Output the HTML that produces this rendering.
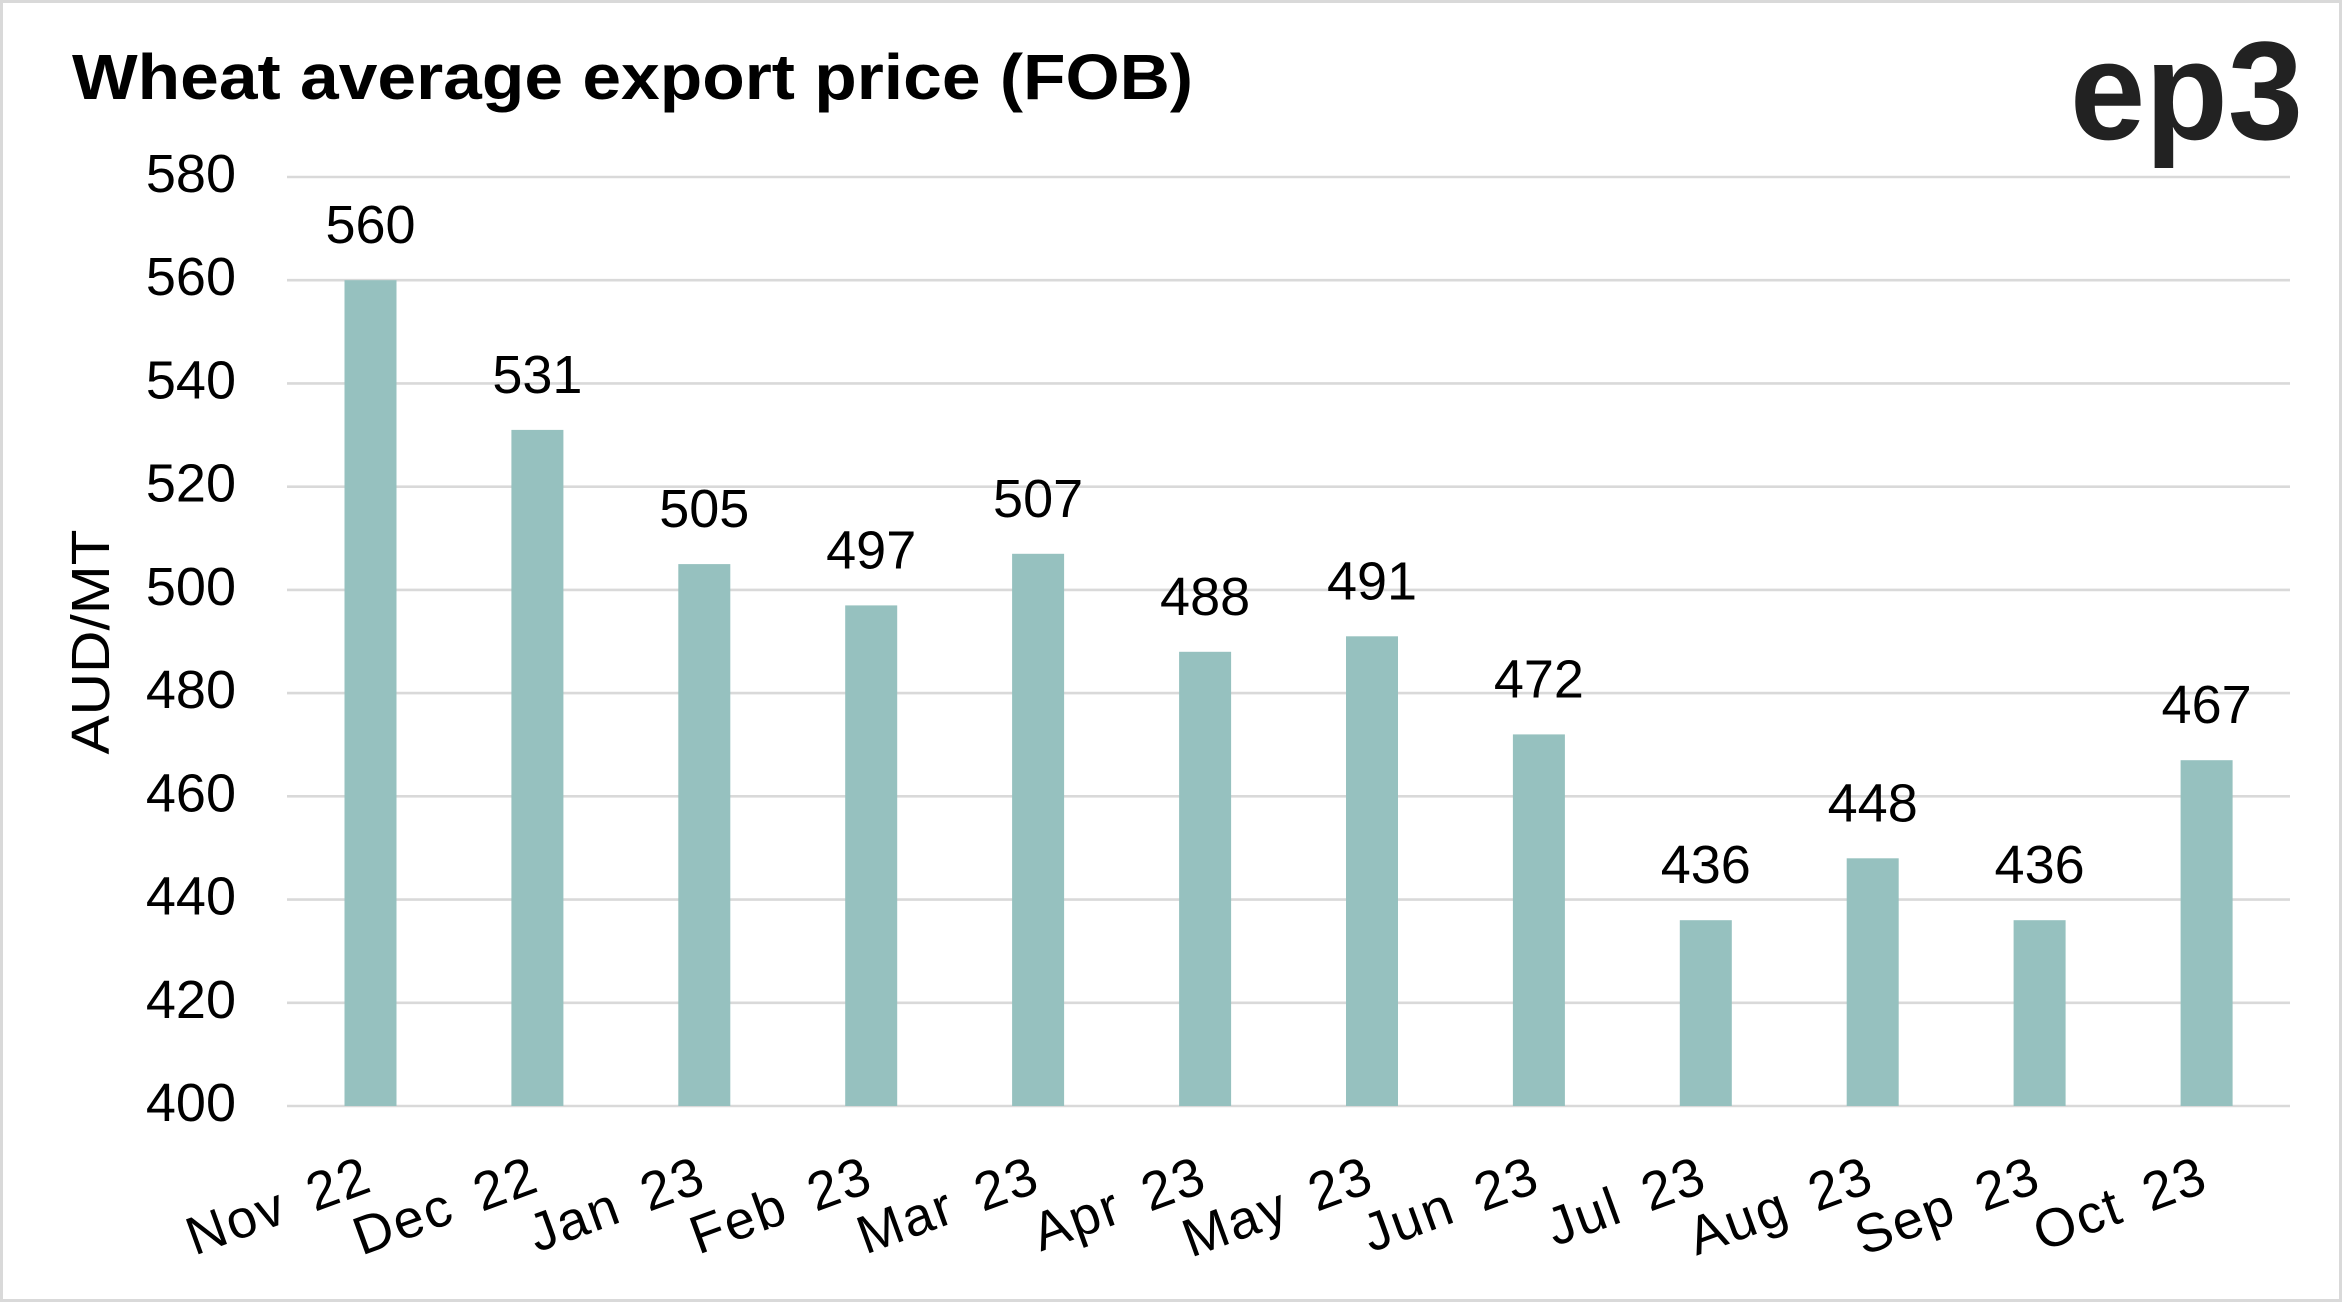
<!DOCTYPE html>
<html>
<head>
<meta charset="utf-8">
<style>
html,body{margin:0;padding:0;background:#fff;}
svg{display:block;}
text{font-family:"Liberation Sans",Arial,sans-serif;fill:#000;}
</style>
</head>
<body>
<svg width="2342" height="1302" viewBox="0 0 2342 1302" xmlns="http://www.w3.org/2000/svg">
<rect x="0" y="0" width="2342" height="1302" fill="#fff"/>
<rect x="1.5" y="1.5" width="2339" height="1299" fill="none" stroke="#d9d9d9" stroke-width="3"/>

<!-- Title -->
<text x="72" y="99" font-size="64" font-weight="bold" textLength="1121" lengthAdjust="spacingAndGlyphs">Wheat average export price (FOB)</text>

<!-- Logo -->
<text x="2070" y="139" font-size="140" font-weight="bold" fill="#222" style="fill:#222" textLength="233" lengthAdjust="spacingAndGlyphs">ep3</text>

<!-- Gridlines -->
<g stroke="#d9d9d9" stroke-width="2.6">
<line x1="287" x2="2290" y1="177" y2="177"/>
<line x1="287" x2="2290" y1="280.2" y2="280.2"/>
<line x1="287" x2="2290" y1="383.4" y2="383.4"/>
<line x1="287" x2="2290" y1="486.7" y2="486.7"/>
<line x1="287" x2="2290" y1="589.9" y2="589.9"/>
<line x1="287" x2="2290" y1="693.1" y2="693.1"/>
<line x1="287" x2="2290" y1="796.3" y2="796.3"/>
<line x1="287" x2="2290" y1="899.6" y2="899.6"/>
<line x1="287" x2="2290" y1="1002.8" y2="1002.8"/>
<line x1="287" x2="2290" y1="1106" y2="1106"/>
</g>

<!-- Y tick labels -->
<g font-size="54" text-anchor="end">
<text x="236" y="192">580</text>
<text x="236" y="295.2">560</text>
<text x="236" y="398.4">540</text>
<text x="236" y="501.7">520</text>
<text x="236" y="604.9">500</text>
<text x="236" y="708.1">480</text>
<text x="236" y="811.3">460</text>
<text x="236" y="914.6">440</text>
<text x="236" y="1017.8">420</text>
<text x="236" y="1121">400</text>
</g>

<!-- Axis title -->
<text x="0" y="0" font-size="54" text-anchor="middle" transform="translate(109,642) rotate(-90)" textLength="225" lengthAdjust="spacingAndGlyphs">AUD/MT</text>

<!-- Bars -->
<g fill="#96c1bf">
<rect x="344.5" y="280.2" width="52" height="825.8"/>
<rect x="511.4" y="429.9" width="52" height="676.1"/>
<rect x="678.3" y="564.1" width="52" height="541.9"/>
<rect x="845.2" y="605.4" width="52" height="500.6"/>
<rect x="1012.1" y="553.8" width="52" height="552.2"/>
<rect x="1179.1" y="651.8" width="52" height="454.2"/>
<rect x="1346" y="636.3" width="52" height="469.7"/>
<rect x="1512.9" y="734.4" width="52" height="371.6"/>
<rect x="1679.8" y="920.2" width="52" height="185.8"/>
<rect x="1846.7" y="858.3" width="52" height="247.7"/>
<rect x="2013.6" y="920.2" width="52" height="185.8"/>
<rect x="2180.6" y="760.2" width="52" height="345.8"/>
</g>

<!-- Data labels -->
<g font-size="54" text-anchor="middle">
<text x="370.5" y="243.2">560</text>
<text x="537.4" y="392.9">531</text>
<text x="704.3" y="527.1">505</text>
<text x="871.2" y="568.4">497</text>
<text x="1038.1" y="516.8">507</text>
<text x="1205.1" y="614.8">488</text>
<text x="1372" y="599.3">491</text>
<text x="1538.9" y="697.4">472</text>
<text x="1705.8" y="883.2">436</text>
<text x="1872.7" y="821.3">448</text>
<text x="2039.6" y="883.2">436</text>
<text x="2206.6" y="723.2">467</text>
</g>

<!-- X labels -->
<g font-size="54" text-anchor="end" letter-spacing="2">
<text transform="translate(375,1190) rotate(-20)" x="0" y="0">Nov<tspan dx="9">&#160;22</tspan></text>
<text transform="translate(542,1190) rotate(-20)" x="0" y="0">Dec<tspan dx="9">&#160;22</tspan></text>
<text transform="translate(709,1190) rotate(-20)" x="0" y="0">Jan<tspan dx="9">&#160;23</tspan></text>
<text transform="translate(876,1190) rotate(-20)" x="0" y="0">Feb<tspan dx="9">&#160;23</tspan></text>
<text transform="translate(1043,1190) rotate(-20)" x="0" y="0">Mar<tspan dx="9">&#160;23</tspan></text>
<text transform="translate(1210,1190) rotate(-20)" x="0" y="0">Apr<tspan dx="9">&#160;23</tspan></text>
<text transform="translate(1377,1190) rotate(-20)" x="0" y="0">May<tspan dx="9">&#160;23</tspan></text>
<text transform="translate(1543,1190) rotate(-20)" x="0" y="0">Jun<tspan dx="9">&#160;23</tspan></text>
<text transform="translate(1710,1190) rotate(-20)" x="0" y="0">Jul<tspan dx="9">&#160;23</tspan></text>
<text transform="translate(1877,1190) rotate(-20)" x="0" y="0">Aug<tspan dx="9">&#160;23</tspan></text>
<text transform="translate(2044,1190) rotate(-20)" x="0" y="0">Sep<tspan dx="9">&#160;23</tspan></text>
<text transform="translate(2211,1190) rotate(-20)" x="0" y="0">Oct<tspan dx="9">&#160;23</tspan></text>
</g>
</svg>
</body>
</html>
